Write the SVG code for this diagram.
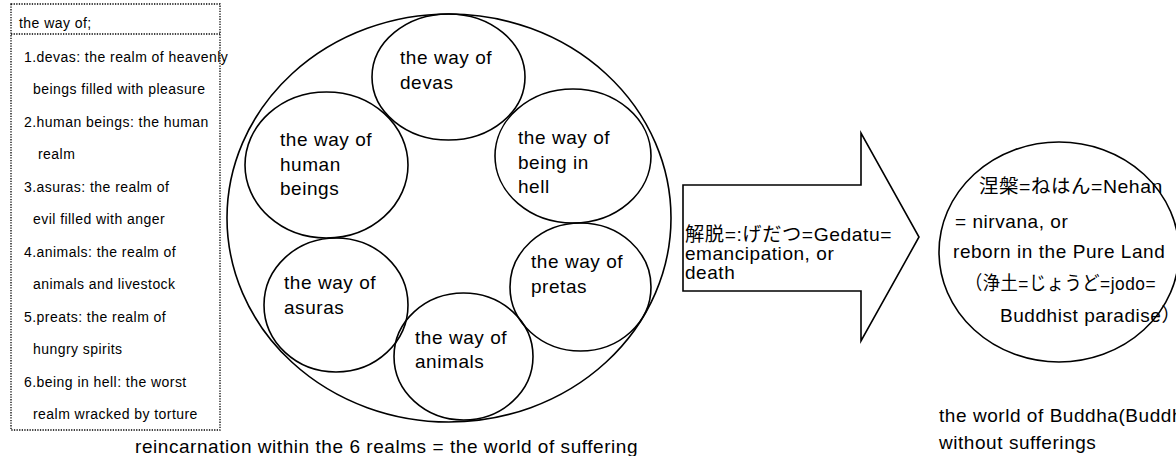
<svg xmlns="http://www.w3.org/2000/svg" width="1176" height="456" viewBox="0 0 1176 456">
  <style>
    .t { font-family: "Liberation Sans", "Noto Sans CJK JP", sans-serif; font-size: 19px; letter-spacing: 0.55px; fill: #000; }
    .s { font-family: "Liberation Sans", "Noto Sans CJK JP", sans-serif; font-size: 14px; letter-spacing: 0.45px; fill: #000; }
    .shape { fill: #fff; stroke: #000; stroke-width: 1.6; }
    .ring { fill: none; stroke: #000; stroke-width: 1.6; }
    .dot { fill: none; stroke: #000; stroke-width: 1.3; stroke-dasharray: 1.3 1.3; }
  </style>
  <rect width="1176" height="456" fill="#fff"/>

  <g id="legend">
    <rect class="dot" x="11" y="4" width="209" height="426"/>
    <line class="dot" x1="11" y1="34" x2="220" y2="34"/>
    <text class="s" x="19" y="28">the way of;</text>
    <text class="s" x="24" y="61.5">1.devas: the realm of heavenly</text>
    <text class="s" x="33" y="94">beings filled with pleasure</text>
    <text class="s" x="24" y="126.5">2.human beings: the human</text>
    <text class="s" x="38" y="159">realm</text>
    <text class="s" x="24" y="191.5">3.asuras: the realm of</text>
    <text class="s" x="33" y="224">evil filled with anger</text>
    <text class="s" x="24" y="256.5">4.animals: the realm of</text>
    <text class="s" x="33" y="289">animals and livestock</text>
    <text class="s" x="24" y="321.5">5.preats: the realm of</text>
    <text class="s" x="33" y="354">hungry spirits</text>
    <text class="s" x="24" y="386.5">6.being in hell: the worst</text>
    <text class="s" x="33" y="419">realm wracked by torture</text>
  </g>

  <g id="world-of-suffering">
    <ellipse class="shape" cx="449" cy="218" rx="222" ry="204"/>
    <text class="t" x="135" y="453">reincarnation within the 6 realms = the world of suffering</text>
  </g>

  <g id="way-devas">
    <ellipse class="ring" cx="448.5" cy="77" rx="76.5" ry="63"/>
    <text class="t" x="400" y="64">the way of</text>
    <text class="t" x="400" y="89">devas</text>
  </g>

  <g id="way-human-beings">
    <ellipse class="ring" cx="326.5" cy="165" rx="81.5" ry="73"/>
    <text class="t" x="280" y="146">the way of</text>
    <text class="t" x="280" y="170.5">human</text>
    <text class="t" x="280" y="195">beings</text>
  </g>

  <g id="way-asuras">
    <ellipse class="ring" cx="336" cy="305" rx="72" ry="67"/>
    <text class="t" x="284" y="289">the way of</text>
    <text class="t" x="284" y="314">asuras</text>
  </g>

  <g id="way-animals">
    <ellipse class="ring" cx="463.5" cy="356.5" rx="69.5" ry="63.5"/>
    <text class="t" x="415" y="344">the way of</text>
    <text class="t" x="415" y="368">animals</text>
  </g>

  <g id="way-being-in-hell">
    <ellipse class="ring" cx="573" cy="156" rx="78" ry="67"/>
    <text class="t" x="518" y="144">the way of</text>
    <text class="t" x="518" y="168.5">being in</text>
    <text class="t" x="518" y="193">hell</text>
  </g>

  <g id="way-pretas">
    <ellipse class="ring" cx="580.5" cy="287" rx="70.5" ry="64"/>
    <text class="t" x="531" y="268">the way of</text>
    <text class="t" x="531" y="293">pretas</text>
  </g>

  <g id="connectors">
    <polygon class="shape" points="683,185 861,185 861,133 919,237 861,341 861,291 683,291"/>
    <text class="t" x="685" y="241" textLength="207" lengthAdjust="spacingAndGlyphs">解脱=:げだつ=Gedatu=</text>
    <text class="t" x="685" y="260">emancipation, or</text>
    <text class="t" x="685" y="279">death</text>
  </g>

  <g id="nirvana">
    <ellipse class="shape" cx="1059" cy="252" rx="120" ry="110"/>
    <text class="t" x="979" y="193" textLength="184" lengthAdjust="spacingAndGlyphs">涅槃=ねはん=Nehan</text>
    <text class="t" x="955" y="228">= nirvana, or</text>
    <text class="t" x="953" y="258">reborn in the Pure Land</text>
    <text class="t" x="965" y="290" textLength="191" lengthAdjust="spacingAndGlyphs">（浄土=じょうど=jodo=</text>
    <text class="t" x="1000" y="322">Buddhist paradise）</text>
  </g>

  <g id="world-of-buddha">
    <text class="t" x="939" y="422">the world of Buddha(Buddh</text>
    <text class="t" x="939" y="449">without sufferings</text>
  </g>
</svg>
